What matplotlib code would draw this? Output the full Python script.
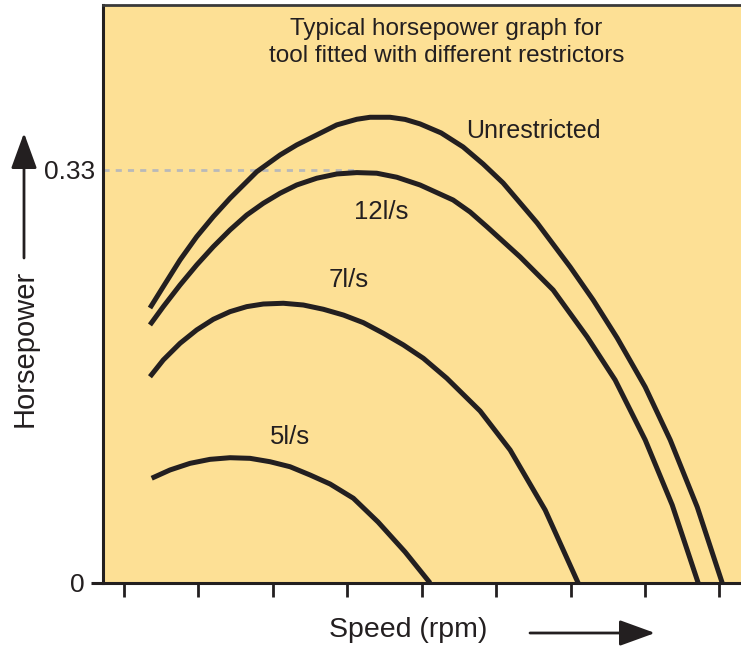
import matplotlib
matplotlib.use('Agg')
import matplotlib.pyplot as plt

plt.rcParams['font.family'] = ['Liberation Sans', 'DejaVu Sans']

# speed in tick units (1..9), horsepower
unres_x = [1.349, 1.528, 1.753, 1.977, 2.200, 2.425, 2.784, 3.097, 3.321, 3.590, 3.859, 4.128, 4.306,
           4.575, 4.777, 4.978, 5.261, 5.556, 5.825, 6.094, 6.551, 6.995, 7.304, 7.626, 8.003, 8.339,
           8.702, 9.038]
unres_y = [0.2197, 0.2368, 0.2581, 0.2767, 0.2927, 0.3074, 0.3286, 0.3420, 0.3500, 0.3580, 0.3660, 0.3705, 0.3721,
           0.3721, 0.3704, 0.3668, 0.3596, 0.3484, 0.3348, 0.3196, 0.2877, 0.2525, 0.2261, 0.1958, 0.1566, 0.1143,
           0.0607, 0.0]

r12_x = [1.349, 1.528, 1.753, 1.977, 2.200, 2.425, 2.649, 2.872, 3.097, 3.321, 3.590, 3.859, 4.128,
         4.396, 4.665, 4.978, 5.422, 5.651, 5.879, 6.323, 6.766, 7.223, 7.599, 8.003, 8.366, 8.715]
r12_y = [0.2062, 0.2208, 0.2381, 0.2541, 0.2687, 0.2821, 0.2940, 0.3034, 0.3114, 0.3180, 0.3234, 0.3268, 0.3279,
         0.3274, 0.3242, 0.3180, 0.3060, 0.2964, 0.2845, 0.2605, 0.2341, 0.1966, 0.1622, 0.1143, 0.0623, 0.0]

r7_x = [1.349, 1.528, 1.753, 1.977, 2.200, 2.425, 2.649, 2.872, 3.141, 3.410, 3.679, 3.948, 4.216,
        4.485, 4.754, 5.023, 5.337, 5.785, 6.188, 6.659, 7.102]
r7_y = [0.1648, 0.1782, 0.1915, 0.2022, 0.2107, 0.2168, 0.2208, 0.2229, 0.2235, 0.2221, 0.2187, 0.2141, 0.2080,
        0.1995, 0.1902, 0.1795, 0.1636, 0.1374, 0.1063, 0.0583, 0.0]

r5_x = [1.372, 1.618, 1.887, 2.156, 2.425, 2.694, 2.962, 3.231, 3.500, 3.769, 4.082, 4.414, 4.777, 5.113]
r5_y = [0.0837, 0.0903, 0.0956, 0.0988, 0.1001, 0.0996, 0.0969, 0.0929, 0.0863, 0.0791, 0.0677, 0.0487, 0.0248, 0.0]

speed_ticks = [1, 2, 3, 4, 5, 6, 7, 8, 9]
hp_mark = 0.33

ink = '#231f20'
bg = '#FDE095'

fig = plt.figure(figsize=(7.41, 6.54), dpi=100)
ax = fig.add_axes([103/741, 71/654, 638/741, 578/654])
ax.set_facecolor(bg)

for xs, ys in [(unres_x, unres_y), (r12_x, r12_y), (r7_x, r7_y), (r5_x, r5_y)]:
    ax.plot(xs, ys, color=ink, lw=3.6, solid_capstyle='butt', solid_joinstyle='round', zorder=3)

ax.set_xlim(0.718, 9.29)
ax.set_ylim(0, 0.4618)

ax.hlines(hp_mark, 0.718, 4.1, colors='#b9b9b9', lw=2, linestyles=(0, (2.2, 2.2)), zorder=2)

for s in ['left', 'bottom']:
    ax.spines[s].set_color(ink)
    ax.spines[s].set_linewidth(2.2)
ax.spines['right'].set_visible(False)
ax.spines['top'].set_color('#3a3a3a')
ax.spines['top'].set_linewidth(2)

ax.set_xticks(speed_ticks)
ax.set_xticklabels([])
ax.tick_params(axis='x', length=10, width=2, color=ink, direction='out')

ax.set_yticks([0], labels=['0'])
ax.set_yticks([hp_mark], labels=['0.33'], minor=True)
ax.tick_params(axis='y', which='major', length=9, width=2.2, color=ink, pad=4,
               labelsize=19, labelcolor=ink)
ax.tick_params(axis='y', which='minor', length=0, pad=6, labelsize=19, labelcolor=ink)

ax.text(5.33, 0.4315, 'Typical horsepower graph for\ntool fitted with different restrictors',
        ha='center', va='center', fontsize=17.5, color=ink, linespacing=1.3)
ax.text(6.50, 0.361, 'Unrestricted', ha='center', va='center', fontsize=18, color=ink)
ax.text(4.45, 0.2965, '12l/s', ha='center', va='center', fontsize=18.5, color=ink)
ax.text(4.02, 0.242, '7l/s', ha='center', va='center', fontsize=18.5, color=ink)
ax.text(3.23, 0.1167, '5l/s', ha='center', va='center', fontsize=18.5, color=ink)

fig.text(408/741, 1 - 630/654, 'Speed (rpm)', ha='center', va='center', fontsize=20.5, color=ink)
fig.text(25/741, 1 - 348/654, 'Horsepower', ha='center', va='center', rotation=90,
         fontsize=21, color=ink)

arrow = dict(arrowstyle='-|>,head_length=1.1,head_width=0.4', lw=2, color=ink,
             mutation_scale=20, shrinkA=0, shrinkB=0)
ax.annotate('', xy=(24/741, 1 - 133/654), xytext=(24/741, 1 - 258/654),
            xycoords='figure fraction', textcoords='figure fraction', arrowprops=arrow)
ax.annotate('', xy=(655/741, 1 - 633/654), xytext=(530/741, 1 - 633/654),
            xycoords='figure fraction', textcoords='figure fraction', arrowprops=arrow)

fig.savefig('out.png', dpi=100)
